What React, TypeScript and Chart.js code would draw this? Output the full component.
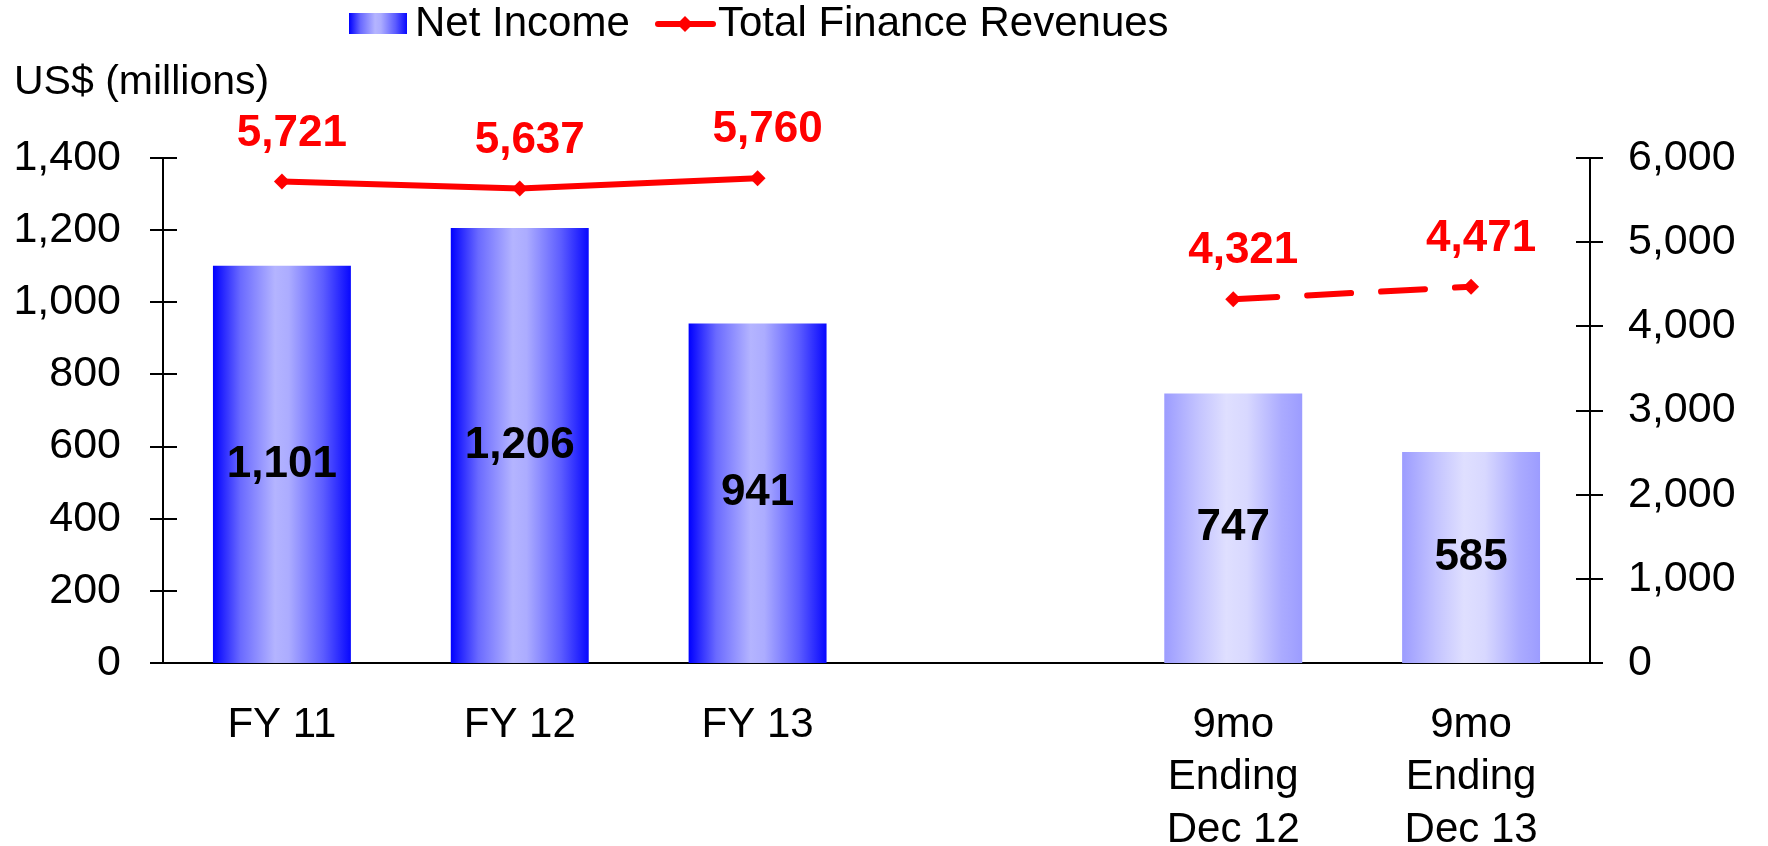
import React, { useEffect, useRef } from "react";
import { Chart, registerables } from "chart.js";

Chart.register(...registerables);

const categories: (string | string[])[] = [
  "FY 11",
  "FY 12",
  "FY 13",
  "",
  ["9mo", "Ending", "Dec 12"],
  ["9mo", "Ending", "Dec 13"],
];
const netIncome: (number | null)[] = [1101, 1206, 941, null, 747, 585];
const totalFinanceRevenues: (number | null)[] = [5721, 5637, 5760, null, 4321, 4471];
const periodKind: string[] = ["FY", "FY", "FY", "", "9mo", "9mo"];
const leftTicks: number[] = [0, 200, 400, 600, 800, 1000, 1200, 1400];
const rightTicks: number[] = [0, 1000, 2000, 3000, 4000, 5000, 6000];

const FONT = "'Liberation Sans', Arial, Helvetica, sans-serif";
const fmt = (v: number) => v.toLocaleString("en-US");

function vividGradient(c: CanvasRenderingContext2D, x0: number, x1: number) {
  const g = c.createLinearGradient(x0, 0, x1, 0);
  g.addColorStop(0, "#0000FF");
  g.addColorStop(0.2, "#6A6AFF");
  g.addColorStop(0.45, "#B4B4FF");
  g.addColorStop(0.55, "#ACACFF");
  g.addColorStop(0.8, "#5C5CFF");
  g.addColorStop(1, "#0808FF");
  return g;
}
function paleGradient(c: CanvasRenderingContext2D, x0: number, x1: number) {
  const g = c.createLinearGradient(x0, 0, x1, 0);
  g.addColorStop(0, "#9C9CFF");
  g.addColorStop(0.25, "#C4C4FF");
  g.addColorStop(0.45, "#DFDFFF");
  g.addColorStop(0.6, "#D8D8FF");
  g.addColorStop(0.85, "#ABABFF");
  g.addColorStop(1, "#9C9CFF");
  return g;
}

const BAR_FRACTION = 0.58;

const decorPlugin = {
  id: "decor",
  afterDraw(chart: any) {
    const c: CanvasRenderingContext2D = chart.ctx;
    const y = chart.scales.y;
    const y1 = chart.scales.y1;
    c.save();
    // cross ticks on both y axes
    c.strokeStyle = "#000";
    c.lineWidth = 2;
    leftTicks.forEach((v) => {
      const py = Math.round(y.getPixelForValue(v));
      c.beginPath();
      c.moveTo(y.right - 13, py);
      c.lineTo(y.right + 14, py);
      c.stroke();
    });
    rightTicks.forEach((v) => {
      const py = Math.round(y1.getPixelForValue(v));
      c.beginPath();
      c.moveTo(y1.left - 14, py);
      c.lineTo(y1.left + 13, py);
      c.stroke();
    });

    // bar value labels
    const barMeta = chart.getDatasetMeta(0);
    c.font = `bold 44px ${FONT}`;
    c.fillStyle = "#000";
    c.textAlign = "center";
    c.textBaseline = "middle";
    barMeta.data.forEach((el: any, i: number) => {
      const v = netIncome[i];
      if (v == null) return;
      c.fillText(fmt(v), el.x, (el.y + el.base) / 2);
    });

    // line value labels
    const lineMeta = chart.getDatasetMeta(1);
    c.font = `bold 44px ${FONT}`;
    c.fillStyle = "#FF0000";
    lineMeta.data.forEach((el: any, i: number) => {
      const v = totalFinanceRevenues[i];
      if (v == null) return;
      c.fillText(fmt(v), el.x + 10, el.y - 48);
    });

    // unit title
    c.font = `41px ${FONT}`;
    c.fillStyle = "#000";
    c.textAlign = "left";
    c.fillText("US$ (millions)", 14, 83);

    // legend
    const ly = 24;
    c.fillStyle = vividGradient(c, 349, 407);
    c.fillRect(349, 13, 58, 21);
    c.fillStyle = "#000";
    c.font = `42px ${FONT}`;
    c.fillText("Net Income", 415, ly);
    c.strokeStyle = "#FF0000";
    c.lineWidth = 6;
    c.lineCap = "round";
    c.beginPath();
    c.moveTo(658, ly);
    c.lineTo(713, ly);
    c.stroke();
    c.fillStyle = "#FF0000";
    c.beginPath();
    c.moveTo(685, ly - 8);
    c.lineTo(693, ly);
    c.lineTo(685, ly + 8);
    c.lineTo(677, ly);
    c.closePath();
    c.fill();
    c.fillStyle = "#000";
    c.fillText("Total Finance Revenues", 718, ly);
    c.restore();
  },
};

export default function App() {
  const ref = useRef<HTMLCanvasElement | null>(null);
  useEffect(() => {
    document.body.style.margin = "0";
    const canvas = ref.current!;
    const chart = new Chart(canvas, {
      type: "bar",
      data: {
        labels: categories,
        datasets: [
          {
            type: "bar",
            label: "Net Income",
            data: netIncome,
            yAxisID: "y",
            order: 2,
            categoryPercentage: 1,
            barPercentage: BAR_FRACTION,
            borderWidth: 0,
            backgroundColor: (ctx: any) => {
              const ch = ctx.chart;
              const xs = ch.scales.x;
              if (!xs || !ch.chartArea || ctx.dataIndex == null) return "#0000FF";
              const i = ctx.dataIndex;
              const cx = xs.getPixelForValue(i);
              const w = (xs.width / categories.length) * BAR_FRACTION;
              return periodKind[i] === "FY"
                ? vividGradient(ch.ctx, cx - w / 2, cx + w / 2)
                : paleGradient(ch.ctx, cx - w / 2, cx + w / 2);
            },
          } as any,
          {
            type: "line",
            label: "Total Finance Revenues",
            data: totalFinanceRevenues,
            yAxisID: "y1",
            order: 1,
            borderColor: "#FF0000",
            backgroundColor: "#FF0000",
            borderWidth: 6,
            borderCapStyle: "round",
            pointStyle: "rectRot",
            pointRadius: 8,
            pointBorderWidth: 0,
            pointBackgroundColor: "#FF0000",
            spanGaps: false,
            tension: 0,
            segment: {
              borderDash: (ctx: any) => (ctx.p0DataIndex >= 4 ? [44, 30] : undefined),
            },
          } as any,
        ],
      },
      options: {
        responsive: false,
        animation: false,
        devicePixelRatio: 1,
        layout: { padding: { top: 158, left: 0, right: 0, bottom: 0 } },
        plugins: { legend: { display: false }, tooltip: { enabled: false } },
        scales: {
          x: {
            offset: true,
            grid: { display: false, drawTicks: false },
            border: { display: true, color: "#000", width: 2 },
            ticks: {
              color: "#000",
              font: { family: FONT, size: 42, lineHeight: 1.25 },
              padding: 36,
              maxRotation: 0,
              autoSkip: false,
            },
            afterFit: (s: any) => {
              s.height = 183;
            },
          },
          y: {
            position: "left",
            min: 0,
            max: 1400,
            afterBuildTicks: (s: any) => {
              s.ticks = leftTicks.map((v) => ({ value: v }));
            },
            grid: { display: false, drawTicks: false },
            border: { display: true, color: "#000", width: 2 },
            ticks: {
              color: "#000",
              font: { family: FONT, size: 43 },
              padding: 42,
              callback: (v: any) => fmt(Number(v)),
            },
            afterFit: (s: any) => {
              s.width = 163;
            },
          },
          y1: {
            position: "right",
            min: 0,
            max: 6000,
            afterBuildTicks: (s: any) => {
              s.ticks = rightTicks.map((v) => ({ value: v }));
            },
            grid: { display: false, drawTicks: false },
            border: { display: true, color: "#000", width: 2 },
            ticks: {
              color: "#000",
              font: { family: FONT, size: 43 },
              padding: 38,
              callback: (v: any) => fmt(Number(v)),
            },
            afterFit: (s: any) => {
              s.width = 178;
            },
          },
        },
      } as any,
      plugins: [decorPlugin],
    });
    return () => chart.destroy();
  }, []);
  return <canvas ref={ref} width={1768} height={846} style={{ display: "block" }} />;
}
